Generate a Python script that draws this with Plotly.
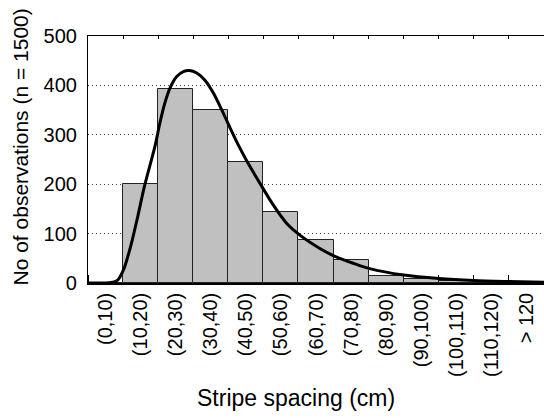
import plotly.graph_objects as go

categories = ["(0,10)", "(10,20)", "(20,30)", "(30,40)", "(40,50)", "(50,60)", "(60,70)",
              "(70,80)", "(80,90)", "(90,100)", "(100,110)", "(110,120)", "> 120"]
bin_centers = [5, 15, 25, 35, 45, 55, 65, 75, 85, 95, 105, 115, 125]
bin_edges = [0, 10, 20, 30, 40, 50, 60, 70, 80, 90, 100, 110, 120, 130]
counts = [0, 200, 393, 350, 244, 144, 87, 47, 14, 9, 5, 2, 0]

curve_x = [0, 4, 6, 7.5, 8.5, 10.2, 12.3, 14.2, 16.1, 19.1, 20.5, 21.9, 23.4, 25.3, 27.2, 28.9,
           31, 33.4, 35.7, 38.1, 40.5, 42.8, 45.2, 49, 52.8, 56.6, 60.4, 66.1, 70.4, 75.6, 80.3,
           90, 100, 110, 120, 130]
curve_y = [0, 0, 0.5, 2, 6, 28, 78, 135, 196, 277, 324, 364, 395, 418, 428, 430,
           425, 410, 385, 351, 314, 280, 248, 202, 158, 121, 97, 70, 54, 40, 29,
           16, 9, 5, 3, 1.5]

y_ticks = [0, 100, 200, 300, 400, 500]

font_family = "Liberation Sans, Arial, Helvetica, sans-serif"

fig = go.Figure()
fig.add_trace(go.Bar(
    x=bin_centers, y=counts, width=10,
    marker=dict(color="#c0c0c0", line=dict(color="#222222", width=1)),
    showlegend=False,
))
fig.add_trace(go.Scatter(
    x=curve_x, y=curve_y, mode="lines",
    line=dict(color="black", width=3, shape="spline", smoothing=0.8),
    showlegend=False,
))
# invisible trace for top axis
fig.add_trace(go.Scatter(x=[0, 130], y=[0, 0], xaxis="x2", mode="lines",
                         line=dict(width=0), showlegend=False, hoverinfo="skip"))

fig.update_layout(
    width=544, height=418,
    margin=dict(l=88, r=0, t=36, b=135),
    paper_bgcolor="white", plot_bgcolor="white",
    font=dict(family=font_family, size=18, color="black"),
    bargap=0,
    xaxis=dict(
        range=[0, 130], tickmode="array", tickvals=bin_centers, ticktext=categories,
        tickangle=-90, ticks="", showline=True, linecolor="black", linewidth=1.5,
        showgrid=False, zeroline=False, layer="below traces",
        minor=dict(tickmode="array", tickvals=bin_edges, ticks="inside", ticklen=8,
                   tickcolor="black", tickwidth=1, showgrid=False),
        tickfont=dict(size=20), automargin=False,
    ),
    xaxis2=dict(
        range=[0, 130], overlaying="x", side="top", tickmode="array", tickvals=bin_edges,
        showticklabels=False, ticks="inside", ticklen=3, tickcolor="black",
        showline=True, linecolor="black", linewidth=1.2, showgrid=False, zeroline=False,
    ),
    yaxis=dict(
        range=[0, 500], tickmode="array", tickvals=y_ticks, ticks="",
        showline=True, linecolor="black", linewidth=1.2,
        showgrid=True, gridcolor="#444444", griddash="1px,3px", gridwidth=1,
        zeroline=False, tickfont=dict(size=20), ticklabelstandoff=6, automargin=False,
    ),
    annotations=[
        dict(text="No of observations (n = 1500)", xref="paper", yref="paper",
             x=0, y=0.5, xshift=-68, yshift=12, textangle=-90, showarrow=False,
             font=dict(size=21), xanchor="center", yanchor="middle"),
        dict(text="Stripe spacing (cm)", xref="paper", yref="paper",
             x=0.5, y=0, yshift=-115, xshift=-20, showarrow=False,
             font=dict(size=23), xanchor="center", yanchor="middle"),
    ],
)

fig.write_html("out.html")
